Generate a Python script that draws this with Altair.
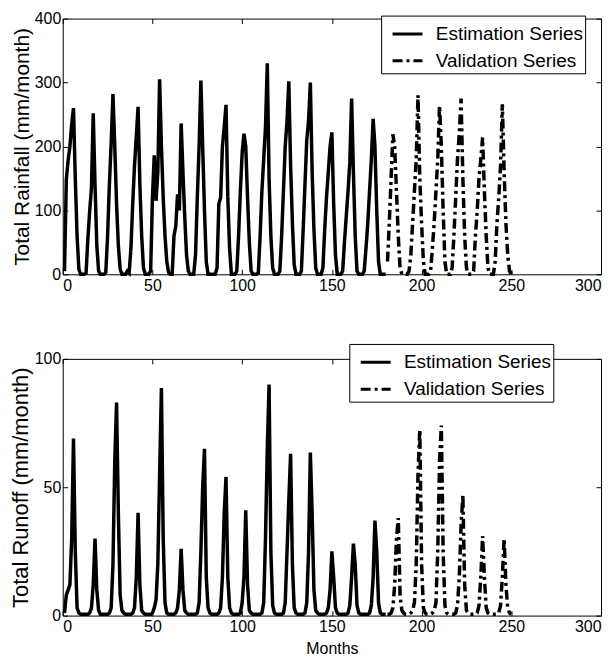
import altair as alt
import pandas as pd

# ---------------- data ----------------
SERIES = ["Estimation Series", "Validation Series"]
X_TICKS = [0, 50, 100, 150, 200, 250, 300]
RAIN_TICKS = [0, 100, 200, 300, 400]
RUNOFF_TICKS = [0, 50, 100]

months_est = list(range(1, 181))
months_val = list(range(181, 251))

rain_est = [
    5, 148, 178, 200, 235, 260, 150, 60, 8, 0, 0, 0,
    2, 55, 98, 135, 252, 140, 45, 5, 0, 0, 0, 3,
    60, 140, 205, 282, 200, 110, 45, 8, 0, 0, 0, 5,
    2, 40, 110, 170, 215, 262, 140, 60, 10, 0, 0, 0,
    5, 120, 186, 115, 160, 305, 200, 120, 60, 20, 3, 0,
    0, 60, 75, 125, 100, 236, 160, 90, 30, 5, 0, 0,
    0, 30, 120, 200, 303, 200, 100, 20, 0, 0, 0, 0,
    0, 10, 110, 120, 200, 230, 265, 120, 40, 0, 0, 0,
    5, 60, 130, 190, 220, 200, 120, 50, 5, 0, 0, 0,
    2, 60, 130, 180, 230, 330, 150, 60, 10, 0, 0, 0,
    5, 60, 130, 200, 240, 302, 170, 80, 15, 0, 0, 0,
    5, 70, 140, 210, 240, 300, 160, 70, 10, 0, 0, 0,
    10, 70, 120, 160, 200, 222, 110, 30, 0, 0, 0, 5,
    50, 90, 130, 175, 275, 160, 60, 5, 0, 0, 0, 5,
    40, 80, 130, 180, 243, 200, 100, 20, 0, 0, 0, 0,
]
rain_val = [
    20, 80, 150, 219, 200, 130, 60, 10, 0, 0, 0, 0,
    5, 30, 80, 130, 180, 280, 150, 80, 20, 0, 0, 0,
    5, 40, 80, 130, 180, 264, 200, 100, 20, 0, 0, 0,
    10, 60, 120, 180, 220, 275, 150, 60, 10, 0, 0, 0,
    5, 60, 100, 150, 180, 214, 130, 60, 10, 0, 0, 0,
    20, 80, 120, 170, 266, 160, 80, 30, 5, 0,
]
runoff_est = [
    1, 8, 10, 12, 30, 69, 25, 3, 1, 0.5, 0.5, 0.5,
    0.5, 0.5, 1, 3, 12, 30, 10, 2, 0.5, 0.5, 0.5, 0.5,
    0.5, 1, 3, 20, 60, 83, 40, 8, 2, 1, 0.5, 0.5,
    0.5, 0.5, 1, 3, 15, 40, 12, 2, 1, 0.5, 0.5, 0.5,
    0.5, 1, 3, 6, 20, 55, 88.6, 30, 5, 1, 0.5, 0.5,
    0.5, 0.5, 1, 3, 10, 26, 10, 2, 1, 0.5, 0.5, 0.5,
    0.5, 0.5, 1, 5, 25, 50, 65, 15, 3, 1, 0.5, 0.5,
    0.5, 0.5, 1, 3, 15, 40, 54, 15, 3, 1, 0.5, 0.5,
    0.5, 0.5, 1, 5, 15, 41, 12, 2, 1, 0.5, 0.5, 0.5,
    0.5, 0.5, 1, 5, 30, 65, 90, 25, 4, 1, 0.5, 0.5,
    0.5, 0.5, 1, 5, 25, 45, 63, 20, 3, 1, 0.5, 0.5,
    0.5, 0.5, 1, 5, 25, 63.5, 40, 10, 2, 1, 0.5, 0.5,
    0.5, 0.5, 1, 3, 10, 25, 15, 3, 1, 0.5, 0.5, 0.5,
    0.5, 0.5, 1, 4, 15, 28, 20, 4, 1, 0.5, 0.5, 0.5,
    0.5, 0.5, 1, 4, 15, 37, 25, 5, 1, 0.5, 0.5, 0.5,
]
runoff_val = [
    0.5, 0.5, 1, 3, 12, 30, 38, 8, 2, 1, 0.5, 0.5,
    0.5, 1, 2, 5, 20, 55, 72.5, 20, 3, 1, 0.5, 0.5,
    0.5, 1, 2, 5, 25, 60, 74, 25, 4, 1, 0.5, 0.5,
    0.5, 0.5, 1, 4, 15, 35, 47, 12, 2, 1, 0.5, 0.5,
    0.5, 0.5, 1, 4, 15, 31, 15, 3, 1, 0.5, 0.5, 0.5,
    0.5, 0.5, 1, 4, 15, 30, 12, 3, 1, 0.5,
]


def make_df(est, val):
    return pd.DataFrame({
        "month": months_est + months_val,
        "value": est + val,
        "series": [SERIES[0]] * len(est) + [SERIES[1]] * len(val),
    })


FONT = "Liberation Sans"


def panel(df, ytitle, ydomain, yticks, height, legend_x, legend_y, xtitle, ytitle_size):
    xscale = alt.Scale(domain=[0, 300], nice=False, zero=False)
    yscale = alt.Scale(domain=ydomain, nice=False)
    x_axis_kw = dict(values=X_TICKS, offset=-5, tickSize=5, domain=False,
                     labelPadding=3, labelFontSize=16, grid=False)
    if xtitle:
        x_axis = alt.Axis(title=xtitle, titleFontSize=16, titlePadding=6,
                          titleFontWeight="normal", **x_axis_kw)
    else:
        x_axis = alt.Axis(title=None, **x_axis_kw)
    y_axis = alt.Axis(title=ytitle, values=yticks, offset=-5, tickSize=5,
                      domain=False, labelPadding=2, labelFontSize=16,
                      titleFontSize=ytitle_size, titleFontWeight="normal",
                      titlePadding=2, grid=False)
    legend = alt.Legend(
        title=None, orient="none", legendX=legend_x, legendY=legend_y,
        fillColor="white", strokeColor="black", padding=2,
        symbolType="stroke", symbolSize=900, symbolStrokeWidth=3,
        symbolStrokeColor="black", symbolOffset=8,
        labelFontSize=19, labelFont=FONT, labelColor="black",
        labelOffset=12, rowPadding=0,
    )
    line = alt.Chart(df).mark_line(color="black", strokeWidth=3.5, strokeCap="butt").encode(
        x=alt.X("month:Q", scale=xscale, axis=x_axis),
        y=alt.Y("value:Q", scale=yscale, axis=y_axis),
        strokeDash=alt.StrokeDash(
            "series:N",
            scale=alt.Scale(domain=SERIES, range=[[1, 0], [10, 4, 3, 4]]),
            legend=legend,
        ),
        order=alt.Order("month:Q"),
    )
    frame = alt.Chart(df).mark_line(opacity=0).encode(
        x=alt.X("month:Q", scale=xscale,
                axis=alt.Axis(orient="top", values=X_TICKS, labels=False, offset=-5,
                              tickSize=5, domain=False, title=None, grid=False)),
        y=alt.Y("value:Q", scale=yscale,
                axis=alt.Axis(orient="right", values=yticks, labels=False, offset=-5,
                              tickSize=5, domain=False, title=None, grid=False)),
        detail="series:N",
    )
    return alt.layer(line, frame).resolve_axis(x="independent", y="independent").properties(
        width=541, height=height
    )


top = panel(make_df(rain_est, rain_val), "Total Rainfall (mm/month)", [0, 400],
            RAIN_TICKS, 257, 320, -3, None, 21)
bottom = panel(make_df(runoff_est, runoff_val), "Total Runoff (mm/month)", [0, 100],
               RUNOFF_TICKS, 258, 288, -15, "Months", 22)

chart = alt.vconcat(top, bottom, spacing=49).resolve_scale(
    strokeDash="independent"
).resolve_legend(
    strokeDash="independent"
).properties(
    padding={"left": 0, "top": 0, "right": 5, "bottom": 0}
).configure(font=FONT).configure_view(
    stroke="black", strokeWidth=1
).configure_axis(
    tickColor="black", labelColor="black", titleColor="black", labelFont=FONT, titleFont=FONT
)

chart.save("out.html", embed_options={"renderer": "svg", "actions": False})
